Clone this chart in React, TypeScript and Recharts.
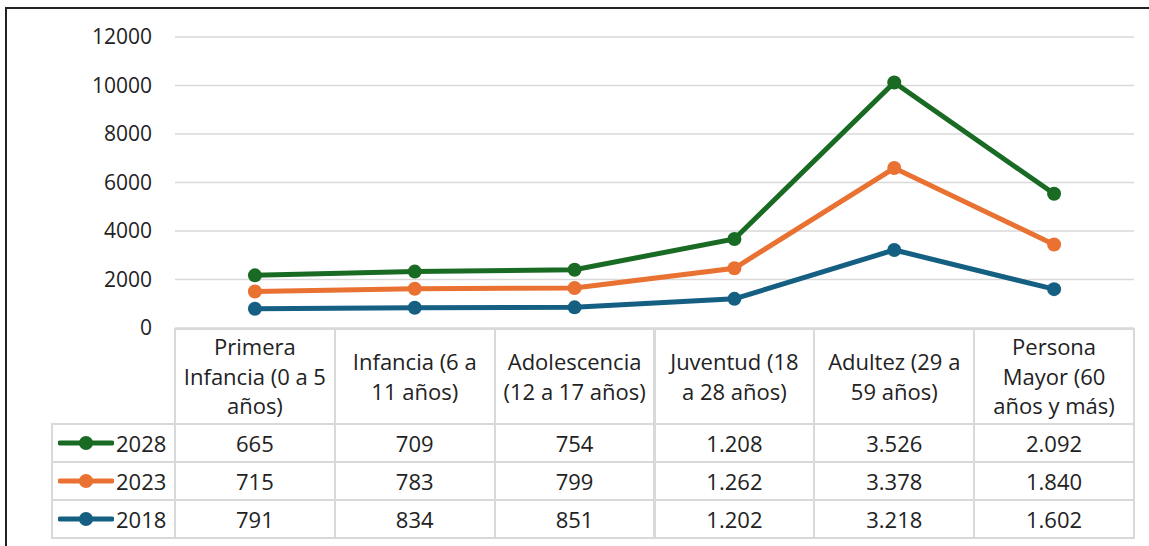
import { LineChart, Line, CartesianGrid, XAxis, YAxis } from "recharts";

const categories = [
  "Primera\nInfancia (0 a 5\naños)",
  "Infancia (6 a\n11 años)",
  "Adolescencia\n(12 a 17 años)",
  "Juventud (18\na 28 años)",
  "Adultez (29 a\n59 años)",
  "Persona\nMayor (60\naños y más)",
];

const values2018 = [791, 834, 851, 1202, 3218, 1602];
const values2023 = [715, 783, 799, 1262, 3378, 1840];
const values2028 = [665, 709, 754, 1208, 3526, 2092];

const yTicks = [0, 2000, 4000, 6000, 8000, 10000, 12000];

const series = [
  { key: "y2018", name: "2018", values: values2018, color: "#156082" },
  { key: "y2023", name: "2023", values: values2023, color: "#E97132" },
  { key: "y2028", name: "2028", values: values2028, color: "#196B24" },
];

// table rows are listed newest first, like the source
const tableRows = [...series].reverse();

// stacked lines: each series sits on top of the previous ones
const data = categories.map((label, i) => ({
  label,
  y2018: values2018[i],
  y2023: values2018[i] + values2023[i],
  y2028: values2018[i] + values2023[i] + values2028[i],
}));

const FONT = "'Open Sans', 'Liberation Sans', sans-serif";
const FS = 22;
const TEXT = "#222";
const GRID = "#d9d9d9";

const PLOT_LEFT = 175;
const PLOT_RIGHT = 1134;
const COL_W = (PLOT_RIGHT - PLOT_LEFT) / categories.length;
const TABLE_TOP = 329;
const HEADER_H = 95;
const ROW_H = 38;
const LEGEND_LEFT = 52;

function formatEs(value: number) {
  return String(value).replace(/\B(?=(\d{3})+(?!\d))/g, ".");
}

function Cell({
  x,
  y,
  w,
  h,
  children,
}: {
  x: number;
  y: number;
  w: number;
  h: number;
  children?: React.ReactNode;
}) {
  return (
    <div
      style={{
        position: "absolute",
        left: x - 1,
        top: y - 1,
        width: w + 2,
        height: h + 2,
        boxSizing: "border-box",
        border: `2px solid ${GRID}`,
        display: "flex",
        alignItems: "center",
        justifyContent: "center",
        textAlign: "center",
      }}
    >
      {children}
    </div>
  );
}

export default function App() {
  return (
    <div
      style={{
        position: "fixed",
        left: 0,
        top: 0,
        width: 1149,
        height: 546,
        overflow: "hidden",
        background: "#fff",
        fontFamily: FONT,
        color: TEXT,
      }}
    >
      <div
        style={{
          position: "absolute",
          left: 5,
          top: 7,
          width: 1300,
          height: 700,
          border: "2.5px solid #222",
          boxSizing: "border-box",
        }}
      />

      <div style={{ position: "absolute", left: 0, top: 0 }}>
        <LineChart
          width={1149}
          height={345}
          data={data}
          margin={{ top: 37, right: 1149 - PLOT_RIGHT, bottom: 17, left: PLOT_LEFT - 60 }}
        >
          <CartesianGrid vertical={false} stroke={GRID} strokeWidth={1.5} />
          <XAxis
            dataKey="label"
            hide
            padding={{ left: COL_W / 2, right: COL_W / 2 }}
          />
          <YAxis
            width={60}
            domain={[0, 12000]}
            ticks={yTicks}
            interval={0}
            axisLine={false}
            tickLine={false}
            tickMargin={17}
            tick={{ fill: TEXT, fontSize: FS - 1, fontFamily: FONT }}
          />
          {series.map((s) => (
            <Line
              key={s.key}
              type="linear"
              dataKey={s.key}
              name={s.name}
              stroke={s.color}
              strokeWidth={5}
              dot={{ r: 7, fill: s.color, stroke: s.color, strokeWidth: 0 }}
              activeDot={false}
              isAnimationActive={false}
            />
          ))}
        </LineChart>
      </div>

      {categories.map((label, i) => (
        <Cell key={label} x={PLOT_LEFT + i * COL_W} y={TABLE_TOP} w={COL_W} h={HEADER_H}>
          <div style={{ whiteSpace: "pre-line", fontSize: FS, lineHeight: "29.5px" }}>
            {label}
          </div>
        </Cell>
      ))}

      {tableRows.map((s, r) => {
        const y = TABLE_TOP + HEADER_H + r * ROW_H;
        return (
          <div key={s.key}>
            <Cell x={LEGEND_LEFT} y={y} w={PLOT_LEFT - LEGEND_LEFT} h={ROW_H}>
              <div style={{ display: "flex", alignItems: "center", width: "100%", paddingLeft: 5 }}>
                <svg width={56} height={16}>
                  <line x1={2} y1={8} x2={54} y2={8} stroke={s.color} strokeWidth={5} strokeLinecap="round" />
                  <circle cx={28} cy={8} r={7} fill={s.color} />
                </svg>
                <span style={{ fontSize: FS, marginLeft: 2 }}>{s.name}</span>
              </div>
            </Cell>
            {s.values.map((v, i) => (
              <Cell key={i} x={PLOT_LEFT + i * COL_W} y={y} w={COL_W} h={ROW_H}>
                <span style={{ fontSize: FS }}>{formatEs(v)}</span>
              </Cell>
            ))}
          </div>
        );
      })}
    </div>
  );
}
